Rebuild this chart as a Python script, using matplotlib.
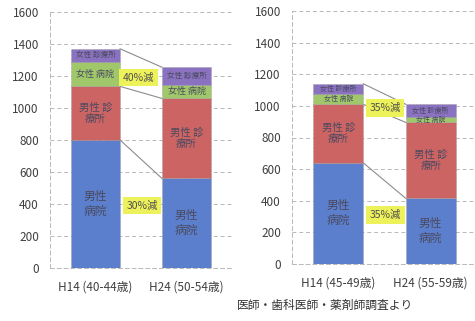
import matplotlib.pyplot as plt

# Reference chart: doctors by workplace, two cohorts, H14 vs H24
plt.rcParams["font.family"] = ["Noto Sans CJK JP", "DejaVu Sans"]

SEGMENTS = ["男性病院", "男性診療所", "女性病院", "女性診療所"]
SEG_LABELS = ["男性\n病院", "男性 診\n療所", "女性 病院", "女性 診療所"]
COLORS = ["#5b7fcc", "#cd6464", "#a0c86a", "#8a72c0"]

LEFT_CATS = ["H14 (40-44歳)", "H24 (50-54歳)"]
LEFT_VALUES = [
    [800, 560],    # 男性病院
    [335, 500],    # 男性診療所
    [155, 85],     # 女性病院
    [80, 110],     # 女性診療所
]
LEFT_NOTES = ["40%減", "30%減"]

RIGHT_CATS = ["H14 (45-49歳)", "H24 (55-59歳)"]
RIGHT_VALUES = [
    [640, 415],
    [370, 480],
    [66, 35],
    [64, 80],
]
RIGHT_NOTES = ["35%減", "35%減"]

SOURCE = "医師・歯科医師・薬剤師調査より"

TEXT_COLOR = "#4a4a60"
BAR_WIDTH = 0.54


def draw_panel(ax, cats, values, notes, label_sizes, note_pos):
    x = list(range(len(cats)))
    bottoms = [0] * len(cats)
    tops = []
    for seg, vals in enumerate(values):
        ax.bar(x, vals, BAR_WIDTH, bottom=bottoms, color=COLORS[seg],
               edgecolor="#9a9a9a", linewidth=0.5, linestyle=(0, (1, 1)),
               zorder=2)
        for i, v in enumerate(vals):
            ax.text(x[i], bottoms[i] + v / 2, SEG_LABELS[seg], ha="center",
                    va="center", fontsize=label_sizes[seg], color=TEXT_COLOR,
                    linespacing=1.2, zorder=3)
        bottoms = [b + v for b, v in zip(bottoms, vals)]
        tops.append(list(bottoms))

    # connector lines: male hospital top, male total, grand total
    half = BAR_WIDTH / 2
    for level in (tops[0], tops[1], tops[3]):
        ax.plot([x[0] + half, x[1] - half], level, color="#8c8c8c",
                linewidth=0.8, zorder=1)

    for note, (nx, ny) in zip(notes, note_pos):
        ax.text(nx, ny, note, ha="center", va="center", fontsize=7.5,
                color="#505050", zorder=4,
                bbox=dict(boxstyle="square,pad=0.35", facecolor="#eef25a",
                          edgecolor="none"))

    ax.set_xlim(-0.5, 1.5)
    ax.set_ylim(0, 1600)
    ax.set_yticks(range(0, 1601, 200))
    ax.set_xticks(x)
    ax.set_xticklabels(cats)
    ax.tick_params(axis="both", length=0, labelsize=8.5, colors="#404040")
    ax.tick_params(axis="y", pad=8)
    ax.tick_params(axis="x", pad=9)
    ax.grid(axis="y", color="#b8b8b8", linestyle=(0, (4, 3)), linewidth=0.7)
    ax.set_axisbelow(True)
    for side in ("top", "right"):
        ax.spines[side].set_visible(False)
    for side in ("left", "bottom"):
        ax.spines[side].set_color("#b8b8b8")
        ax.spines[side].set_linestyle((0, (4, 3)))
        ax.spines[side].set_linewidth(0.7)


fig = plt.figure(figsize=(4.75, 3.21), dpi=100)

ax_left = fig.add_axes([50 / 475, 53 / 321, 182 / 475, 256 / 321])
draw_panel(ax_left, LEFT_CATS, LEFT_VALUES, LEFT_NOTES,
           [8.5, 7.5, 6.5, 5.5], [(0.47, 1190), (0.51, 390)])

ax_right = fig.add_axes([292 / 475, 57 / 321, 185 / 475, 253 / 321])
draw_panel(ax_right, RIGHT_CATS, RIGHT_VALUES, RIGHT_NOTES,
           [8.5, 7.5, 5.0, 5.0], [(0.505, 987), (0.51, 310)])

fig.text(237 / 475, 1 - 305 / 321, SOURCE, ha="left", va="center",
         fontsize=8.5, color="#333333")

fig.savefig("out.png", dpi=100)
